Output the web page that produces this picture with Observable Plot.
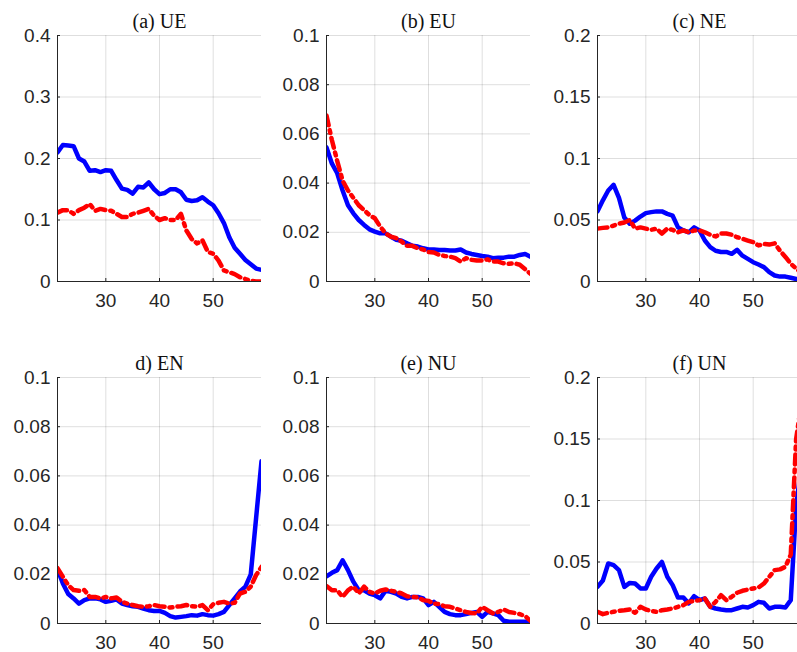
<!DOCTYPE html>
<html><head><meta charset="utf-8">
<script src="https://cdn.jsdelivr.net/npm/d3@7"></script>
<script src="https://cdn.jsdelivr.net/npm/@observablehq/plot@0.6"></script>
<style>
html,body{margin:0;padding:0;background:#fff;overflow:hidden;}
#wrap{position:relative;width:797px;height:652px;overflow:hidden;background:#fff;}
#wrap > .panel{position:absolute;}
#wrap > .panel svg{max-width:none !important;display:block;}
</style></head><body><div id="wrap"></div>
<script>
const ages = d3.range(21, 60);
const xTicks = [30, 40, 50];
const titles = ["(a) UE", "(b) EU", "(c) NE", "d) EN", "(e) NU", "(f) UN"];

const yTicksA = [0, 0.1, 0.2, 0.3, 0.4];
const yLabelsA = ["0", "0.1", "0.2", "0.3", "0.4"];
const yTicksSmall = [0, 0.02, 0.04, 0.06, 0.08, 0.1];
const yLabelsSmall = ["0", "0.02", "0.04", "0.06", "0.08", "0.1"];
const yTicksMid = [0, 0.05, 0.1, 0.15, 0.2];
const yLabelsMid = ["0", "0.05", "0.1", "0.15", "0.2"];

const ueBlue = [0.21,0.222,0.221,0.22,0.20,0.195,0.18,0.181,0.178,0.181,0.18,0.165,0.151,0.149,0.143,0.154,0.153,0.161,0.15,0.142,0.144,0.15,0.15,0.145,0.133,0.131,0.132,0.137,0.13,0.124,0.111,0.095,0.072,0.055,0.045,0.035,0.028,0.021,0.019];
const ueRed = [0.112,0.116,0.116,0.11,0.116,0.12,0.126,0.115,0.118,0.116,0.115,0.11,0.105,0.105,0.11,0.112,0.115,0.118,0.107,0.1,0.103,0.1,0.1,0.11,0.083,0.069,0.062,0.067,0.048,0.045,0.034,0.018,0.015,0.012,0.007,0.004,0.001,0,0];

const euBlue = [0.0545,0.048,0.044,0.037,0.031,0.0277,0.025,0.023,0.0212,0.0203,0.0196,0.0196,0.0182,0.017,0.0166,0.0155,0.0145,0.0142,0.0135,0.013,0.013,0.0128,0.0128,0.0126,0.0126,0.013,0.0118,0.0112,0.0108,0.0104,0.0101,0.0095,0.0097,0.0097,0.0101,0.0101,0.0108,0.0112,0.0101];
const euRed = [0.0675,0.0575,0.049,0.041,0.037,0.034,0.031,0.029,0.027,0.0257,0.0223,0.0196,0.0182,0.0176,0.0162,0.0145,0.0145,0.0135,0.013,0.012,0.0118,0.0108,0.0104,0.0101,0.0095,0.0081,0.0095,0.0088,0.0085,0.0085,0.009,0.0081,0.0081,0.0074,0.0072,0.0074,0.0068,0.005,0.0031];

const neBlue = [0.057,0.066,0.074,0.0786,0.068,0.052,0.047,0.0495,0.0528,0.0556,0.0564,0.057,0.057,0.055,0.0535,0.044,0.0415,0.040,0.044,0.0415,0.0333,0.028,0.025,0.024,0.024,0.0225,0.0257,0.021,0.0184,0.0157,0.0138,0.0117,0.0076,0.0049,0.004,0.004,0.003,0.002,0.002];
const neRed = [0.043,0.0436,0.044,0.0455,0.047,0.048,0.05,0.043,0.044,0.043,0.042,0.043,0.039,0.043,0.042,0.040,0.0415,0.040,0.0415,0.0415,0.040,0.038,0.0366,0.039,0.039,0.038,0.036,0.0347,0.0333,0.032,0.0293,0.0306,0.030,0.031,0.025,0.02,0.0145,0.0105,0.007];

const enBlue = [0.022,0.0163,0.012,0.0102,0.0081,0.0095,0.0102,0.0102,0.0098,0.0088,0.0092,0.0098,0.0081,0.0075,0.007,0.0068,0.0061,0.0054,0.0051,0.0051,0.0043,0.003,0.0024,0.0027,0.003,0.0034,0.0032,0.0038,0.0034,0.0032,0.0038,0.0047,0.0075,0.0102,0.013,0.015,0.02,0.043,0.066];
const enRed = [0.0225,0.019,0.0156,0.0136,0.0133,0.0136,0.0108,0.0108,0.0102,0.0108,0.0102,0.0106,0.0088,0.0081,0.0075,0.007,0.0068,0.007,0.0075,0.007,0.0068,0.0065,0.0068,0.007,0.0075,0.007,0.0068,0.0075,0.0054,0.0078,0.0084,0.0088,0.0081,0.0084,0.0122,0.0129,0.015,0.0197,0.023];

const nuBlue = [0.0192,0.0206,0.0217,0.0257,0.0217,0.017,0.0135,0.0135,0.0122,0.0115,0.0102,0.0133,0.0129,0.0122,0.0108,0.0102,0.0108,0.0108,0.0102,0.0075,0.0088,0.0068,0.0047,0.0038,0.0034,0.0034,0.0038,0.0043,0.0047,0.0027,0.0047,0.0041,0.0034,0.0011,0.0007,0.0007,0.0007,0.0007,0.0007];
const nuRed = [0.0152,0.0135,0.0135,0.0108,0.0135,0.015,0.0122,0.015,0.0129,0.0122,0.0133,0.0138,0.0133,0.0129,0.0122,0.0111,0.0108,0.0106,0.0095,0.0092,0.0081,0.0079,0.007,0.0068,0.0061,0.0054,0.0047,0.0043,0.0041,0.0068,0.0054,0.0041,0.0047,0.0057,0.0047,0.0043,0.0038,0.003,0.0011];

const unBlue = [0.0298,0.035,0.0488,0.0474,0.0434,0.0298,0.033,0.0325,0.0285,0.0285,0.038,0.0447,0.05,0.038,0.0312,0.0211,0.0211,0.0163,0.0222,0.019,0.0203,0.0136,0.0122,0.0114,0.0108,0.0108,0.0122,0.0136,0.013,0.0149,0.0176,0.0168,0.0122,0.0136,0.0136,0.013,0.019,0.095,0.13];
const unRed = [0.0095,0.0076,0.0087,0.0095,0.0103,0.0108,0.0114,0.0087,0.0136,0.0114,0.0103,0.0095,0.0108,0.0114,0.0122,0.0136,0.0149,0.0176,0.0184,0.019,0.0203,0.0136,0.0176,0.023,0.019,0.0217,0.025,0.0266,0.0276,0.0285,0.0293,0.0325,0.038,0.0434,0.044,0.0461,0.056,0.15,0.18];

const panels = [
  {title: titles[0], blue: ueBlue, red: ueRed, ticks: yTicksA, labels: yLabelsA, left: 0, top: 0, ml: 57, mt: 35},
  {title: titles[1], blue: euBlue, red: euRed, ticks: yTicksSmall, labels: yLabelsSmall, left: 265, top: 0, ml: 61, mt: 35},
  {title: titles[2], blue: neBlue, red: neRed, ticks: yTicksMid, labels: yLabelsMid, left: 530, top: 0, ml: 67, mt: 35},
  {title: titles[3], blue: enBlue, red: enRed, ticks: yTicksSmall, labels: yLabelsSmall, left: 0, top: 340, ml: 57, mt: 37},
  {title: titles[4], blue: nuBlue, red: nuRed, ticks: yTicksSmall, labels: yLabelsSmall, left: 265, top: 340, ml: 61, mt: 37},
  {title: titles[5], blue: unBlue, red: unRed, ticks: yTicksMid, labels: yLabelsMid, left: 530, top: 340, ml: 67, mt: 37}
];

const W = 204, H = 246, MR = 6, MB = 32;
const axisColor = "#262626";
const wrap = document.getElementById("wrap");

for (const p of panels) {
  const blueData = ages.map((a, i) => ({age: a, v: p.blue[i]}));
  const redData = ages.map((a, i) => ({age: a, v: p.red[i]}));
  const ymax = p.ticks[p.ticks.length - 1];
  const width = p.ml + W + MR;
  const chart = Plot.plot({
    width,
    height: p.mt + H + MB,
    marginLeft: p.ml,
    marginTop: p.mt,
    marginRight: MR,
    marginBottom: MB,
    style: {fontFamily: "'Liberation Sans', Arial, sans-serif", fontSize: "19px", color: axisColor, background: "#fff"},
    x: {domain: [21, 59], axis: null},
    y: {domain: [0, ymax], axis: null},
    marks: [
      Plot.gridY(p.ticks, {stroke: "#000", strokeOpacity: 0.13}),
      Plot.gridX(xTicks, {stroke: "#000", strokeOpacity: 0.13}),
      Plot.tickY(p.ticks, {stroke: axisColor, insetRight: W - 3}),
      Plot.tickX(xTicks, {stroke: axisColor, insetTop: H - 3}),
      Plot.axisY(p.ticks, {label: null, tickSize: 0, tickPadding: 7, fill: axisColor, fontSize: 19,
        tickFormat: d => p.labels[p.ticks.indexOf(d)]}),
      Plot.axisX(xTicks, {label: null, tickSize: 0, tickPadding: 12, fill: axisColor, fontSize: 19, tickFormat: d => String(d)}),
      Plot.line(blueData, {x: "age", y: "v", stroke: "#0000ff", strokeWidth: 4.5, strokeLinejoin: "round", clip: true}),
      Plot.line(redData, {x: "age", y: "v", stroke: "#ff0000", strokeWidth: 4.5, strokeDasharray: "10,5,3,5", clip: true}),
      Plot.ruleX([21], {stroke: axisColor, strokeWidth: 1}),
      Plot.ruleY([0], {stroke: axisColor, strokeWidth: 1}),
      Plot.text([p.title], {frameAnchor: "top", dy: -8, lineAnchor: "bottom", fontFamily: "'Liberation Serif', 'Times New Roman', serif", fontSize: 20, fill: "#111", style: "letter-spacing:1px;word-spacing:3px"})
    ]
  });
  const div = document.createElement("div");
  div.className = "panel";
  div.style.left = p.left + "px";
  div.style.top = p.top + "px";
  div.style.width = width + "px";
  div.appendChild(chart);
  wrap.appendChild(div);
}
</script></body></html>
